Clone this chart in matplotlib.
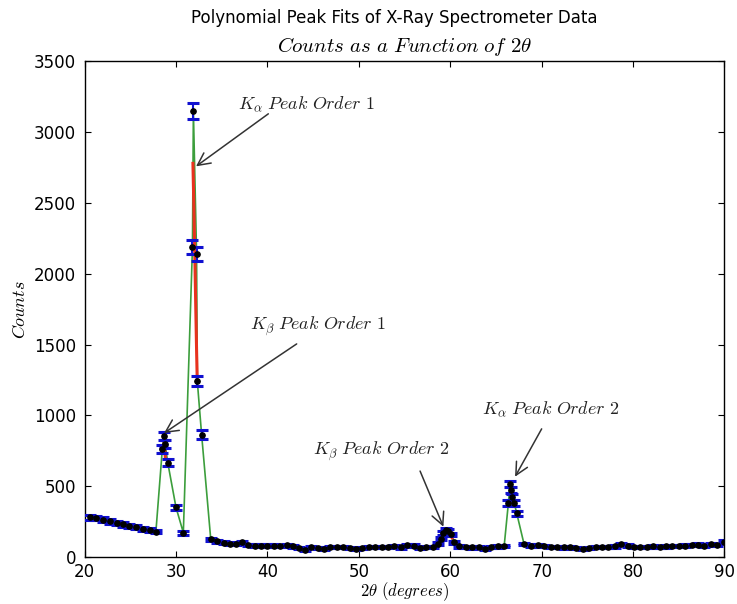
import numpy as np
import matplotlib
matplotlib.use("Agg")
import matplotlib.pyplot as plt

plt.rcParams['mathtext.fontset'] = 'cm'
plt.rcParams['font.family'] = ['DejaVu Sans']

# ---- data ----
two_theta = [20.6, 21.3, 22.0, 22.8, 23.5, 24.2, 24.9, 25.6, 26.4, 27.1, 27.8,
             28.5, 28.65, 28.8, 29.1, 30.0, 30.8, 31.8, 31.9, 32.25, 32.33, 32.8, 33.8,
             34.5, 35.2, 35.9, 36.6, 37.2, 37.9, 38.6, 39.3, 40.0, 40.7, 41.4, 42.1,
             42.8, 43.5, 44.1, 44.8, 45.5, 46.2, 46.9, 47.6, 48.3, 49.0, 49.7, 50.4,
             51.1, 51.8, 52.5, 53.2, 53.9, 54.6, 55.3, 56.0, 56.7, 57.4, 58.1, 58.7,
             59.0, 59.2, 59.5, 59.8, 60.1, 60.4,
             61.0, 61.7, 62.4, 63.1, 63.8, 64.5, 65.2, 65.9,
             66.36, 66.55, 66.65, 66.75, 67.0, 67.27, 68.07,
             68.8, 69.6, 70.3, 71.0, 71.7, 72.4, 73.1, 73.8, 74.5, 75.2, 75.9, 76.6,
             77.3, 78.0, 78.7, 79.4, 80.1, 80.8, 81.5, 82.2, 82.9, 83.6, 84.3, 85.0,
             85.7, 86.4, 87.1, 87.8, 88.5, 89.2, 89.9]
counts = [280, 276, 264, 252, 240, 230, 220, 210, 200, 192, 180,
          760, 855, 800, 665, 350, 172, 2190, 3150, 2140, 1240, 865, 125,
          110, 100, 92, 95, 105, 85, 80, 80, 80, 80, 78, 82,
          75, 65, 50, 70, 62, 60, 72, 70, 72, 65, 55, 62,
          70, 70, 72, 70, 78, 68, 82, 80, 62, 70, 70, 95,
          130, 170, 190, 185, 160, 105,
          75, 70, 68, 72, 60, 72, 75, 78,
          381, 515, 473, 423, 381, 310, 92,
          80, 82, 78, 72, 70, 68, 72, 62, 58, 65, 70, 72,
          70, 75, 92, 80, 72, 70, 72, 75, 72, 75, 78, 78,
          80, 85, 88, 80, 90, 85, 108]

# polynomial fit curves (red)
fit_ka1_x = [31.85, 31.95, 32.05, 32.15, 32.25, 32.32]
fit_ka1_y = [2780, 2480, 2150, 1800, 1460, 1250]
fit_kb1_x = [28.6, 28.68, 28.76, 28.84]
fit_kb1_y = [875, 820, 760, 700]
fit_kb2_x = [59.2, 59.4, 59.6, 59.8, 60.0, 60.2]
fit_kb2_y = [145, 175, 190, 186, 168, 135]
fit_ka2_x = [66.62, 66.7, 66.78, 66.86]
fit_ka2_y = [510, 470, 425, 385]

labels = [r'$K_{\alpha}\ Peak\ Order\ 1$', r'$K_{\beta}\ Peak\ Order\ 1$',
          r'$K_{\beta}\ Peak\ Order\ 2$', r'$K_{\alpha}\ Peak\ Order\ 2$']
label_pos = [(44.3, 3200), (45.5, 1630), (52.4, 748), (71.0, 1044)]
arrow_tail = [(40.1, 3130), (43.2, 1505), (56.7, 607), (70.0, 905)]
arrow_head = [(32.19, 2759), (28.69, 875), (59.25, 214), (67.09, 567)]

fig = plt.figure(figsize=(7.37, 6.04), dpi=100, facecolor='white')
ax = fig.add_axes([0.1148, 0.0778, 0.8682, 0.8205])

x = np.array(two_theta)
y = np.array(counts, dtype=float)

ax.plot(x, y, color='#3c9e3c', lw=1.2, zorder=1)
for fx, fy in [(fit_ka1_x, fit_ka1_y), (fit_kb1_x, fit_kb1_y),
               (fit_kb2_x, fit_kb2_y), (fit_ka2_x, fit_ka2_y)]:
    ax.plot(fx, fy, color='#e8321e', lw=2.2, zorder=2)
ax.errorbar(x, y, yerr=np.sqrt(y), fmt='o', color='k', ms=3.8,
            ecolor='#1010d0', elinewidth=1.5, capsize=4.3, capthick=2.2, zorder=3)

for lab, lp, tail, head in zip(labels, label_pos, arrow_tail, arrow_head):
    ax.text(lp[0], lp[1], lab, fontsize=13, ha='center', va='center', color='#222222')
    ax.annotate('', xy=head, xytext=tail,
                arrowprops=dict(arrowstyle='->,head_length=0.5,head_width=0.25',
                                color='#333333', lw=1.1,
                                mutation_scale=18, shrinkA=0, shrinkB=0))

ax.set_xlim(20, 90)
ax.set_ylim(0, 3500)
ax.set_xticks(range(20, 91, 10))
ax.set_yticks(range(0, 3501, 500))
ax.tick_params(direction='in', top=True, right=True, labelsize=12, length=4, pad=6)
ax.tick_params(axis='x', pad=4)
for s in ax.spines.values():
    s.set_linewidth(1.0)

ax.set_xlabel(r'$2\theta\ (degrees)$', fontsize=12, labelpad=0)
ax.set_ylabel(r'$Counts$', fontsize=13)
ax.set_title(r'$Counts\ as\ a\ Function\ of\ 2\theta$', fontsize=15, pad=7)
fig.suptitle('Polynomial Peak Fits of X-Ray Spectrometer Data', x=0.535, y=0.985,
             fontsize=12)

fig.savefig('out.png', dpi=100, facecolor='white')
